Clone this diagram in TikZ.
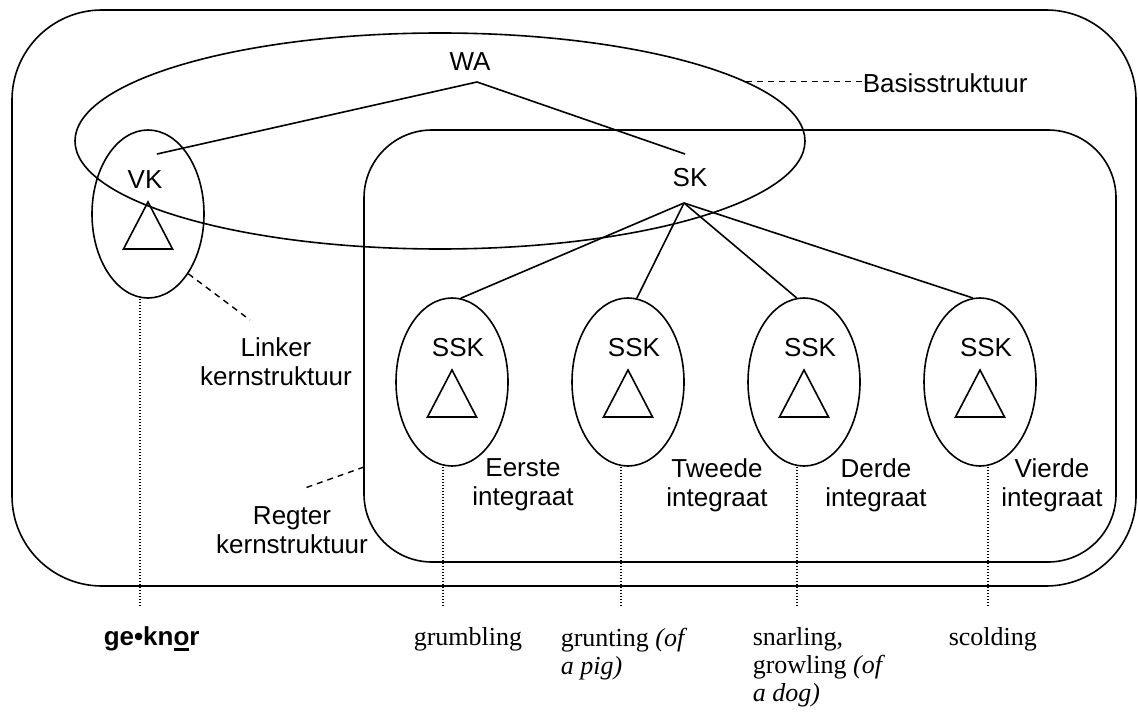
\documentclass[tikz,border=0pt]{standalone}
\usepackage{fontspec}
\setmainfont{Liberation Serif}
\setsansfont{Liberation Sans}
\usepackage{tikz}
\usetikzlibrary{shapes.geometric}

\tikzset{
  lbl/.style={font=\sffamily\fontsize{13}{14.5}\selectfont, inner sep=0pt, align=center},
  gloss/.style={font=\rmfamily\fontsize{13}{14}\selectfont, inner sep=0pt, align=left, anchor=north west},
  blob/.style={draw, ellipse, minimum width=56pt, minimum height=84pt, inner sep=0pt},
  basisring/.style={draw, ellipse, minimum width=365pt, minimum height=108pt, inner sep=0pt},
  leader/.style={dash pattern=on 3pt off 2.5pt, line width=0.7pt},
  grond/.style={dash pattern=on 0.6pt off 0.9pt, line width=0.6pt}
}

% a small subtree triangle inside an ellipse
\newcommand{\stam}[1]{\draw (#1.center) ++(0,-12) -- ++(-24.5,47) -- ++(49,0) -- cycle;}
% thick underline for the stressed vowel
\newcommand{\klem}[1]{\setbox0\hbox{#1}\rlap{\rule[-3pt]{\wd0}{1.5pt}}\box0}

\begin{document}
\begin{tikzpicture}[x=0.5pt, y=-0.5pt, line width=0.8pt]
        \useasboundingbox (0,0) rectangle (1138,711);

        % The two frames
        \draw[rounded corners=45pt] (12,10) rectangle (1136,586);
        \draw[rounded corners=34pt] (364,130) rectangle (1116,562);

        % The basis ellipse
        \node[basisring] (basis) at (440,141) {};
        \node[lbl, anchor=west] (basist) at (862,83) {Basisstruktuur};
        \draw[leader] (basis.11) -- (basis.11 -| basist.west);

        % The top of the tree
        \node[lbl] (wa) at (470,62) {WA};
        \coordinate (waj) at (477,82);
        \node[lbl] (sk) at (690,178) {SK};
        \coordinate (skj) at (684,203);
        \coordinate (vkin) at (157,154);
        \coordinate (skin) at (685,154);
        \draw (vkin) -- (waj) -- (skin);

        % The left core
        \node[blob] (vk) at (148,214) {};
        \node[lbl] (vkt) at (145,180) {VK};
        \stam{vk}

        % The four integrates
        \node[blob] (ssk1) at (452,382) {};
        \node[blob] (ssk2) at (628,382) {};
        \node[blob] (ssk3) at (804,382) {};
        \node[blob] (ssk4) at (980,382) {};

        \node[lbl] (ssk1t) at (458,348) {SSK};
        \node[lbl] (ssk2t) at (634,348) {SSK};
        \node[lbl] (ssk3t) at (810,348) {SSK};
        \node[lbl] (ssk4t) at (986,348) {SSK};

        \stam{ssk1}
        \stam{ssk2}
        \stam{ssk3}
        \stam{ssk4}

        % The edges below SK
        \draw (skj) -- (ssk1.84);
        \draw (skj) -- (ssk2.84);
        \draw (skj) -- (ssk3.95);
        \draw (skj) -- (ssk4.95);

        % The words by the ellipses
        \node[lbl] (eerste) at (523,485) {Eerste\\integraat};
        \node[lbl] (tweede) at (717,485) {Tweede\\integraat};
        \node[lbl] (derde) at (876,485) {Derde\\integraat};
        \node[lbl] (vierde) at (1052,485) {Vierde\\integraat};

        \node[lbl] (linker) at (276,362) {Linker\\kernstruktuur};
        \coordinate (linkerend) at (250,320);
        \draw[leader] (vk.-56) -- (linkerend);

        \node[lbl] (regter) at (292,530) {Regter\\kernstruktuur};
        \coordinate (regterstart) at (364,467);
        \coordinate (regterend) at (305,488);
        \draw[leader] (regterstart) -- (regterend);

        % The dotted drops
        \coordinate (g0) at (140,606);
        \coordinate (g1) at (443,606);
        \coordinate (g2) at (621,606);
        \coordinate (g3) at (797,606);
        \coordinate (g4) at (988,606);
        \draw[grond] (vk.south -| g0) -- (g0);
        \draw[grond] (ssk1.south -| g1) -- (g1);
        \draw[grond] (ssk2.south -| g2) -- (g2);
        \draw[grond] (ssk3.south -| g3) -- (g3);
        \draw[grond] (ssk4.south -| g4) -- (g4);

        % The word and its glosses
        \node[lbl, anchor=base west, font=\sffamily\bfseries\fontsize{13}{14.5}\selectfont] (woord) at (103,645) {ge•kn\klem{o}r};
        \node[gloss] (gl1) at (413,627) {grumbling};
        \node[gloss] (gl2) at (560,627) {grunting \textit{(of}\\\textit{a pig)}};
        \node[gloss] (gl3) at (752,627) {snarling,\\growling \textit{(of}\\\textit{a dog)}};
        \node[gloss] (gl4) at (948,627) {scolding};

\end{tikzpicture}
\end{document}
